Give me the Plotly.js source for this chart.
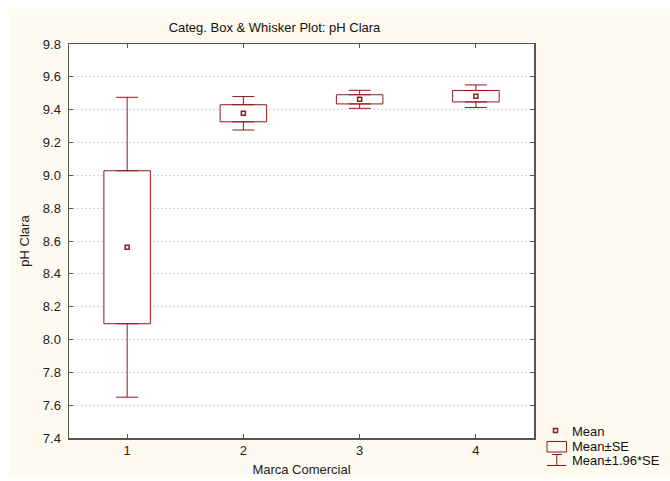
<!DOCTYPE html>
<html>
<head>
<meta charset="utf-8">
<script src="https://cdn.plot.ly/plotly-3.0.1.min.js"></script>
<style>
html,body{margin:0;padding:0;background:#ffffff;}
#chart{position:absolute;left:9px;top:9px;width:661px;height:468px;}
</style>
</head>
<body>
<div id="chart"></div>
<script>
// Data
var categories = ['1', '2', '3', '4'];
var catPos = [1, 2, 3, 4];
var means = [8.562, 9.378, 9.463, 9.482];
var se = [0.466, 0.052, 0.028, 0.035];
var ciFactor = 1.96;
var tickVals = [7.4, 7.6, 7.8, 8.0, 8.2, 8.4, 8.6, 8.8, 9.0, 9.2, 9.4, 9.6, 9.8];
var legendLabels = ['Mean', 'Mean\u00b1SE', 'Mean\u00b11.96*SE'];

var red = '#8e1b1b';
var boxBase = means.map(function(m, i){ return m - se[i]; });
var boxHeight = se.map(function(s){ return 2 * s; });
var upperStart = means.map(function(m, i){ return m + se[i]; });
var lowerStart = means.map(function(m, i){ return m - se[i]; });
var whiskerExtra = se.map(function(s){ return (ciFactor - 1) * s; });
var zeros = se.map(function(){ return 0; });

var traces = [
  {
    type: 'bar', x: catPos, y: boxHeight, base: boxBase, width: 0.4,
    marker: {color: '#ffffff', line: {color: red, width: 1}},
    showlegend: false, hoverinfo: 'skip'
  },
  {
    type: 'scatter', mode: 'markers', x: catPos, y: upperStart,
    marker: {opacity: 0, size: 1},
    error_y: {type: 'data', symmetric: false, array: whiskerExtra, arrayminus: zeros,
              color: red, thickness: 1, width: 11},
    showlegend: false, hoverinfo: 'skip'
  },
  {
    type: 'scatter', mode: 'markers', x: catPos, y: lowerStart,
    marker: {opacity: 0, size: 1},
    error_y: {type: 'data', symmetric: false, array: zeros, arrayminus: whiskerExtra,
              color: red, thickness: 1, width: 11},
    showlegend: false, hoverinfo: 'skip'
  },
  {
    type: 'scatter', mode: 'markers', x: catPos, y: means,
    marker: {symbol: 'square-open', size: 4, color: red, line: {width: 1.5, color: red}},
    showlegend: false
  }
];

// manual legend (paper coordinates relative to plot area: x 69..534, y 44..438 page px)
function px(x){ return (x - 69) / 465; }
function py(y){ return (438 - y) / 394; }
var shapes = [
  {type: 'rect', xref: 'paper', yref: 'paper', x0: px(553.5), x1: px(557.5), y0: py(432.5), y1: py(428.5),
   line: {color: red, width: 1.5}, fillcolor: 'rgba(0,0,0,0)'},
  {type: 'rect', xref: 'paper', yref: 'paper', x0: px(547), x1: px(566.5), y0: py(452), y1: py(441.5),
   line: {color: red, width: 1}, fillcolor: 'rgba(0,0,0,0)'},
  {type: 'line', xref: 'paper', yref: 'paper', x0: px(552), x1: px(562), y0: py(454.5), y1: py(454.5),
   line: {color: red, width: 1}},
  {type: 'line', xref: 'paper', yref: 'paper', x0: px(556.8), x1: px(556.8), y0: py(454.5), y1: py(465.5),
   line: {color: red, width: 1}},
  {type: 'line', xref: 'paper', yref: 'paper', x0: px(547), x1: px(566.5), y0: py(465.5), y1: py(465.5),
   line: {color: red, width: 1}}
];
var legendY = [431, 446.5, 460.5];
var annotations = legendLabels.map(function(t, i){
  return {text: t, xref: 'paper', yref: 'paper', x: px(570), y: py(legendY[i]),
          xanchor: 'left', yanchor: 'middle', showarrow: false,
          font: {family: 'Liberation Sans, Arial, sans-serif', size: 13, color: '#111'}};
});

var layout = {
  width: 661, height: 468,
  margin: {l: 60, r: 136, t: 35, b: 39},
  paper_bgcolor: '#fefaf0',
  plot_bgcolor: '#ffffff',
  font: {family: 'Liberation Sans, Arial, sans-serif', size: 13, color: '#222'},
  title: {text: 'Categ. Box &amp; Whisker Plot: pH Clara', xref: 'container', yref: 'container',
          x: 265.5 / 661, y: 1 - 18.5 / 468, xanchor: 'center', yanchor: 'middle',
          font: {size: 13, color: '#111'}},
  showlegend: false,
  bargap: 0,
  xaxis: {
    range: [0.5, 4.5], tickvals: catPos, ticktext: categories,
    ticks: 'inside', ticklen: 4, tickcolor: '#555', mirror: 'ticks',
    showline: true, linecolor: '#555', linewidth: 1.5, showgrid: false, zeroline: false,
    tickfont: {size: 13, color: '#222'},
    title: {text: 'Marca Comercial', font: {size: 13, color: '#222'}, standoff: 13}
  },
  yaxis: {
    range: [7.4, 9.8], tickvals: tickVals, tickformat: '.1f',
    ticks: 'inside', ticklen: 4, tickcolor: '#555', mirror: 'ticks',
    showline: true, linecolor: '#555', linewidth: 1.5,
    showgrid: true, gridcolor: '#d4d4d4', griddash: '2px,2px', gridwidth: 1, zeroline: false,
    tickfont: {size: 13, color: '#222'}, ticklabelstandoff: 4,
    title: {text: 'pH Clara', font: {size: 13, color: '#222'}, standoff: 10}
  },
  shapes: shapes,
  annotations: annotations
};

Plotly.newPlot('chart', traces, layout, {displayModeBar: false, staticPlot: true});
</script>
</body>
</html>
